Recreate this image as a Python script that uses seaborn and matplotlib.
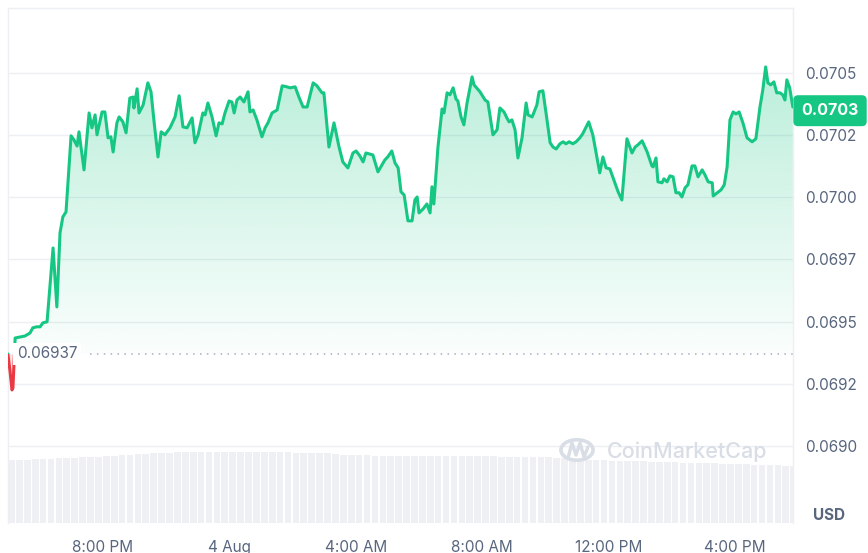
import numpy as np
import pandas as pd
import seaborn as sns
import matplotlib.pyplot as plt
from matplotlib.patches import Rectangle, Polygon, Circle

# hours relative to 4 Aug 00:00
hours = [
    -7.01, -6.94, -6.88, -6.85, -6.78, -6.63, -6.47, -6.31, -6.22, -6.09,
    -5.99, -5.90, -5.77, -5.58, -5.46, -5.36, -5.27, -5.17, -5.01, -4.92,
    -4.82, -4.76, -4.60, -4.44, -4.35, -4.25, -4.19, -4.03, -3.94, -3.84,
    -3.75, -3.68, -3.56, -3.49, -3.37, -3.27, -3.15, -3.05, -3.02, -2.92,
    -2.86, -2.73, -2.58, -2.48, -2.39, -2.26, -2.16, -2.04, -1.88, -1.72,
    -1.59, -1.47, -1.34, -1.18, -1.09, -0.99, -0.84, -0.77, -0.68, -0.55,
    -0.42, -0.33, -0.23, -0.14, -0.01, 0.08, 0.15, 0.24, 0.34, 0.46,
    0.59, 0.65, 0.75, 0.87, 1.03, 1.13, 1.22, 1.35, 1.51, 1.67,
    1.82, 1.92, 2.08, 2.20, 2.33, 2.46, 2.65, 2.77, 2.93, 2.99,
    3.15, 3.31, 3.47, 3.59, 3.75, 3.91, 4.01, 4.13, 4.23, 4.32,
    4.54, 4.70, 4.83, 4.92, 5.01, 5.14, 5.24, 5.34, 5.43, 5.53,
    5.65, 5.78, 5.87, 5.94, 6.00, 6.13, 6.25, 6.35, 6.41, 6.47,
    6.60, 6.73, 6.79, 6.89, 6.98, 7.08, 7.17, 7.23, 7.33, 7.42,
    7.52, 7.68, 7.74, 7.93, 8.09, 8.18, 8.34, 8.47, 8.56, 8.69,
    8.78, 8.85, 8.94, 9.04, 9.13, 9.26, 9.39, 9.45, 9.58, 9.73,
    9.80, 9.92, 10.02, 10.15, 10.24, 10.34, 10.46, 10.56, 10.65, 10.75,
    10.87, 10.97, 11.09, 11.18, 11.37, 11.50, 11.63, 11.72, 11.82, 11.92,
    12.04, 12.20, 12.30, 12.42, 12.58, 12.74, 12.84, 12.93, 13.06, 13.22,
    13.37, 13.41, 13.50, 13.56, 13.69, 13.75, 13.85, 13.94, 14.04, 14.13,
    14.23, 14.32, 14.42, 14.51, 14.64, 14.73, 14.83, 14.96, 15.05, 15.15,
    15.28, 15.31, 15.44, 15.56, 15.66, 15.75, 15.84, 15.94, 16.03, 16.13,
    16.25, 16.38, 16.54, 16.66, 16.79, 16.88, 16.97, 17.04, 17.13, 17.23,
    17.32, 17.42, 17.51, 17.58, 17.64, 17.73, 17.83,
]

price = [
    0.069370, 0.069298, 0.069225, 0.069233, 0.069434, 0.069438, 0.069442, 0.069454, 0.069475, 0.069479,
    0.069479, 0.069495, 0.069499, 0.069796, 0.069559, 0.069857, 0.069921, 0.069941, 0.070247, 0.070231,
    0.070206, 0.070263, 0.070110, 0.070339, 0.070279, 0.070331, 0.070251, 0.070343, 0.070343, 0.070239,
    0.070243, 0.070182, 0.070299, 0.070323, 0.070303, 0.070259, 0.070399, 0.070403, 0.070359, 0.070436,
    0.070339, 0.070371, 0.070460, 0.070424, 0.070311, 0.070162, 0.070263, 0.070251, 0.070279, 0.070323,
    0.070408, 0.070283, 0.070279, 0.070319, 0.070219, 0.070251, 0.070339, 0.070331, 0.070379, 0.070323,
    0.070247, 0.070299, 0.070295, 0.070339, 0.070387, 0.070383, 0.070339, 0.070391, 0.070403, 0.070383,
    0.070424, 0.070343, 0.070351, 0.070311, 0.070243, 0.070279, 0.070299, 0.070339, 0.070351, 0.070448,
    0.070444, 0.070440, 0.070444, 0.070403, 0.070363, 0.070363, 0.070460, 0.070448, 0.070420, 0.070420,
    0.070202, 0.070299, 0.070202, 0.070142, 0.070118, 0.070178, 0.070186, 0.070166, 0.070142, 0.070178,
    0.070170, 0.070102, 0.070130, 0.070150, 0.070162, 0.070186, 0.070138, 0.070118, 0.070022, 0.070009,
    0.069905, 0.069905, 0.069989, 0.070001, 0.069937, 0.069953, 0.069973, 0.069937, 0.070042, 0.069973,
    0.070202, 0.070355, 0.070339, 0.070420, 0.070412, 0.070440, 0.070395, 0.070387, 0.070323, 0.070291,
    0.070379, 0.070484, 0.070452, 0.070424, 0.070391, 0.070383, 0.070251, 0.070271, 0.070359, 0.070343,
    0.070319, 0.070303, 0.070311, 0.070271, 0.070158, 0.070239, 0.070379, 0.070331, 0.070323, 0.070371,
    0.070424, 0.070428, 0.070339, 0.070219, 0.070202, 0.070194, 0.070215, 0.070223, 0.070215, 0.070223,
    0.070215, 0.070223, 0.070239, 0.070255, 0.070303, 0.070251, 0.070162, 0.070098, 0.070162, 0.070118,
    0.070114, 0.070058, 0.070022, 0.069989, 0.070235, 0.070178, 0.070202, 0.070211, 0.070227, 0.070182,
    0.070126, 0.070122, 0.070158, 0.070062, 0.070058, 0.070074, 0.070062, 0.070086, 0.070082, 0.070018,
    0.070018, 0.070001, 0.070038, 0.070050, 0.070126, 0.070126, 0.070082, 0.070110, 0.070090, 0.070062,
    0.070058, 0.070005, 0.070018, 0.070030, 0.070050, 0.070122, 0.070311, 0.070343, 0.070335, 0.070343,
    0.070299, 0.070239, 0.070223, 0.070235, 0.070363, 0.070432, 0.070524, 0.070460, 0.070452, 0.070464,
    0.070420, 0.070420, 0.070412, 0.070391, 0.070472, 0.070440, 0.070363,
]

# relative volume, one bar every 15 min starting at -7.0 h
volume = [
    6.3, 6.3, 6.3, 6.4, 6.4, 6.4, 6.5,
    6.5, 6.5, 6.6, 6.6, 6.6, 6.7,
    6.7, 6.8, 6.8, 6.9, 6.9, 7.0,
    7.0, 7.0, 7.1, 7.1, 7.1, 7.1, 7.1, 7.1, 7.1, 7.1,
    7.1, 7.1, 7.1, 7.1, 7.1, 7.1, 7.1, 7.0, 7.0, 7.0, 7.0,
    7.0, 6.9, 6.8, 6.8,
    6.8, 6.8, 6.7, 6.7, 6.7, 6.7, 6.7, 6.7,
    6.7, 6.7, 6.7, 6.7, 6.7, 6.7, 6.7, 6.7, 6.7, 6.7, 6.6, 6.6, 6.6, 6.6, 6.6, 6.6,
    6.6, 6.5, 6.5, 6.4, 6.4, 6.3, 6.3, 6.3, 6.2,
    6.2, 6.2, 6.2, 6.2, 6.1, 6.1, 6.1, 6.1, 6.0, 6.0, 6.0,
    6.0, 6.0, 5.9, 5.9, 5.9, 5.9, 5.8, 5.8, 5.8, 5.8, 5.7, 5.7,
]
vol_hours = -7.0 + 0.25 * np.arange(len(volume))

open_price = 0.06937
last_label = "0.0703"
ytick_vals = [0.0690, 0.06925, 0.0695, 0.06975, 0.0700, 0.07025, 0.0705]
ytick_labels = ["0.0690", "0.0692", "0.0695", "0.0697", "0.0700", "0.0702", "0.0705"]
xtick_vals = [-4, 0, 4, 8, 12, 16]
xtick_labels = ["8:00 PM", "4 Aug", "4:00 AM", "8:00 AM", "12:00 PM", "4:00 PM"]

GREEN = "#16c784"
RED = "#ea3943"
GREY_TXT = "#58667e"
GRID = "#eceff3"

sns.set_theme(style="white")
plt.rcParams["font.family"] = ["Inter", "DejaVu Sans"]

df = pd.DataFrame({"hour": hours, "price": price})
xmin, xmax = -7.006, 17.835
ymin, ymax = 0.068690, 0.070761

fig = plt.figure(figsize=(8.68, 5.53), dpi=100)
ax = fig.add_axes([8 / 868, 30 / 553, 785 / 868, 515 / 553])
ax2 = ax.twinx()

# volume bars underneath
ax2.bar(vol_hours, volume, width=0.21, color="#eef0f3", linewidth=0, align="edge")
ax2.set_ylim(0, max(volume) * 515 / 71)
ax2.set_yticks([])
for s in ax2.spines.values():
    s.set_visible(False)
ax.set_zorder(ax2.get_zorder() + 1)
ax.patch.set_visible(False)

# gradient fill above the open price
x = df["hour"].values
y = df["price"].values
up = np.maximum(y, open_price)
poly = Polygon(np.column_stack([np.r_[x[0], x, x[-1]], np.r_[open_price, up, open_price]]),
               closed=True, facecolor="none", edgecolor="none")
ax.add_patch(poly)
grad = np.zeros((256, 1, 4))
grad[..., 0], grad[..., 1], grad[..., 2] = 22 / 255, 199 / 255, 132 / 255
grad[:, 0, 3] = np.linspace(0.02, 0.30, 256)
im = ax.imshow(grad, extent=[x[0], x[-1], open_price, 0.07055], origin="lower",
               aspect="auto", zorder=1)
im.set_clip_path(poly)

dn = np.minimum(y, open_price)
ax.fill_between(x, dn, open_price, color=RED, alpha=0.15, linewidth=0, zorder=1)

# price line, green above open price and red below
sns.lineplot(data=df, x="hour", y="price", ax=ax, color=GREEN, linewidth=2.2,
             estimator=None, sort=False, zorder=3)
ax.lines[-1].set_clip_path(Rectangle((xmin, open_price), xmax - xmin, ymax - open_price,
                                     transform=ax.transData))
sns.lineplot(data=df, x="hour", y="price", ax=ax, color=RED, linewidth=2.2,
             estimator=None, sort=False, zorder=3)
ax.lines[-1].set_clip_path(Rectangle((xmin, ymin), xmax - xmin, open_price - ymin,
                                     transform=ax.transData))

# open price reference
ax.plot([-4.4, xmax], [open_price, open_price], color="#a6b0c3", linewidth=1.1,
        linestyle=(0, (1, 3.5)), zorder=2)
ax.text(-6.72, open_price, "0.06937", fontsize=11, color=GREY_TXT, va="center",
        ha="left", zorder=4,
        bbox=dict(boxstyle="square,pad=0.25", facecolor="white", edgecolor="none"))

ax.set_xlim(xmin, xmax)
ax.set_ylim(ymin, ymax)
ax.yaxis.tick_right()
ax.set_yticks(ytick_vals)
ax.set_yticklabels(ytick_labels)
ax.set_xticks(xtick_vals)
ax.set_xticklabels(xtick_labels)
ax.tick_params(axis="y", length=0, pad=9, labelsize=11, labelcolor=GREY_TXT)
ax.tick_params(axis="x", length=0, pad=12, labelsize=11, labelcolor=GREY_TXT)
ax.set_xlabel("")
ax.set_ylabel("")
ax.grid(axis="y", color=GRID, linewidth=1)
ax.grid(axis="x", visible=False)
for side in ["left", "right", "top"]:
    ax.spines[side].set_color(GRID)
    ax.spines[side].set_linewidth(1)
ax.spines["bottom"].set_visible(False)

# last price tag
ax.annotate(last_label, xy=(1.0, price[-1] - 0.000015), xycoords=("axes fraction", "data"),
            xytext=(6, 0), textcoords="offset points", ha="left", va="center",
            fontsize=11.5, fontweight="bold", color="white", zorder=5, annotation_clip=False,
            bbox=dict(boxstyle="round,pad=0.5,rounding_size=0.3", facecolor=GREEN,
                      edgecolor="none"))

fig.text(829 / 868, 1 - 516 / 553, "USD", ha="center", va="center", fontsize=11,
         fontweight="bold", color=GREY_TXT)

# watermark
wm = "#d9dde5"
fig.patches.append(Circle((577 / 868, 1 - 450 / 553), 0.0185, transform=fig.transFigure,
                          fill=False, edgecolor=wm, linewidth=2.6))
fig.lines.append(plt.Line2D(np.array([568, 572, 576, 580, 584, 588]) / 868,
                            1 - np.array([458, 443, 455, 443, 457, 447]) / 553,
                            transform=fig.transFigure, color=wm, linewidth=2.4))
fig.text(607 / 868, 1 - 452 / 553, "CoinMarketCap", ha="left", va="center", fontsize=15.5,
         fontweight="medium", color=wm)

fig.savefig("out.png", dpi=100)
